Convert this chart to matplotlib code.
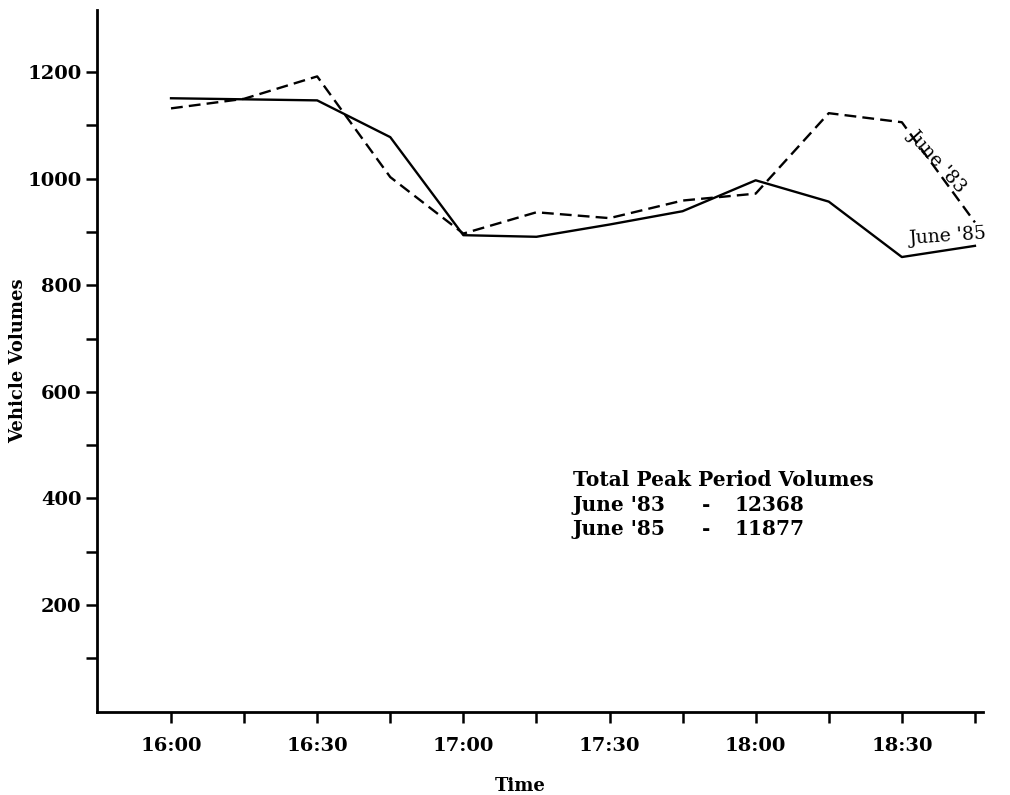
#!/usr/bin/env python3
"""Line chart: peak period vehicle volumes, June '83 vs June '85."""

import matplotlib
matplotlib.use("Agg")
import matplotlib.pyplot as plt

# minutes after 16:00, one count every 15 minutes
MINUTES = [0, 15, 30, 45, 60, 75, 90, 105, 120, 135, 150, 165]
JUNE_83 = [1132, 1150, 1192, 1003, 897, 937, 926, 959, 972, 1123, 1106, 918]
JUNE_85 = [1151, 1149, 1147, 1078, 894, 891, 914, 939, 997, 957, 853, 874]

TICK_MIN = [0, 30, 60, 90, 120, 150]
TICK_LABELS = ["16:00", "16:30", "17:00", "17:30", "18:00", "18:30"]
MINOR_MIN = [15, 45, 75, 105, 135, 165]
Y_TICKS = [200, 400, 600, 800, 1000, 1200]
Y_MINOR = [100, 300, 500, 700, 900, 1100]

TOTALS = [("June '83", 12368), ("June '85", 11877)]

FONT = "DejaVu Serif"


def main():
    fig = plt.figure(figsize=(10.1, 7.95), dpi=100)
    ax = fig.add_axes([0.096, 0.105, 0.877, 0.882])

    ax.plot(MINUTES, JUNE_83, color="black", lw=1.7, linestyle=(0, (5, 2.6)))
    ax.plot(MINUTES, JUNE_85, color="black", lw=1.7)

    ax.set_xlim(-15.2, 166.6)
    ax.set_ylim(0, 1316)

    for s in ("top", "right"):
        ax.spines[s].set_visible(False)
    for s in ("left", "bottom"):
        ax.spines[s].set_linewidth(2.0)

    ax.set_xticks(TICK_MIN)
    ax.set_xticklabels(TICK_LABELS)
    ax.set_xticks(MINOR_MIN, minor=True)
    ax.set_yticks(Y_TICKS)
    ax.set_yticks(Y_MINOR, minor=True)
    ax.tick_params(which="both", direction="out", length=8, width=1.8)
    ax.tick_params(axis="x", pad=10)
    ax.tick_params(axis="y", pad=3)
    for lab in ax.get_xticklabels() + ax.get_yticklabels():
        lab.set_fontfamily(FONT)
        lab.set_fontweight("bold")
        lab.set_fontsize(14)

    ax.set_ylabel("Vehicle Volumes", fontfamily=FONT, fontweight="bold",
                  fontsize=13)
    ax.yaxis.set_label_coords(-0.079, 0.5)
    ax.set_xlabel("Time", fontfamily=FONT, fontweight="bold", fontsize=13)
    ax.xaxis.set_label_coords(0.478, -0.093)

    # series labels placed on the lines
    ax.text(157.3, 1034, "June '83", rotation=-48, ha="center", va="center",
            fontfamily=FONT, fontsize=13.5, rotation_mode="anchor")
    ax.text(159.5, 892, "June '85", rotation=4, ha="center", va="center",
            fontfamily=FONT, fontsize=13.5, rotation_mode="anchor")

    # totals box
    x0 = 0.537
    ax.text(x0, 0.330, "Total Peak Period Volumes", transform=ax.transAxes,
            fontfamily=FONT, fontweight="bold", fontsize=14.5, va="center")
    for i, (name, total) in enumerate(TOTALS):
        y = 0.295 - 0.034 * i
        ax.text(x0, y, name, transform=ax.transAxes, fontfamily=FONT,
                fontweight="bold", fontsize=14.5, va="center")
        ax.text(0.688, y, "-", transform=ax.transAxes, fontfamily=FONT,
                fontweight="bold", fontsize=14.5, va="center", ha="center")
        ax.text(0.720, y, str(total), transform=ax.transAxes, fontfamily=FONT,
                fontweight="bold", fontsize=14.5, va="center")

    fig.savefig("out.png", dpi=100)


if __name__ == "__main__":
    main()
